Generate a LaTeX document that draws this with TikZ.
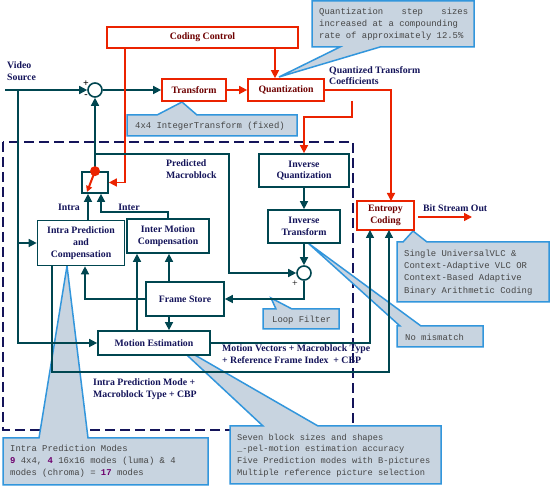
\documentclass[tikz,border=0pt]{standalone}
\usepackage{fontspec}
\setmainfont{Liberation Serif}
\newfontfamily\monof{Liberation Mono}
\usetikzlibrary{arrows.meta,calc}
\definecolor{navy}{RGB}{20,20,90}
\definecolor{teal1}{RGB}{0,70,80}
\definecolor{redl}{RGB}{235,35,0}
\definecolor{darkred}{RGB}{110,0,0}
\definecolor{cfill}{RGB}{200,212,224}
\definecolor{cline}{RGB}{50,150,220}
\definecolor{mono}{RGB}{70,70,70}
\definecolor{purp}{RGB}{110,0,110}
\begin{document}
\begin{tikzpicture}[x=1pt,y=-1pt,
 tbox/.style={draw=teal1,line width=1.7pt,fill=white,font=\bfseries\fontsize{9.8}{11.8}\selectfont,text=navy,align=center,inner sep=0pt},
 rbox/.style={draw=redl,line width=1.7pt,fill=white,font=\bfseries\fontsize{9.8}{11.8}\selectfont,text=darkred,align=center,inner sep=0pt},
 sumc/.style={draw=teal1,line width=1.6pt,fill=white,circle,minimum size=14pt,inner sep=0pt},
 lab/.style={font=\bfseries\fontsize{9.8}{11.8}\selectfont,text=navy,inner sep=0pt},
 con/.style={draw=teal1,line width=1.5pt},
 arr/.style={con,-{Triangle[length=8pt,width=8pt]}},
 rcon/.style={draw=redl,line width=1.5pt},
 rarr/.style={rcon,-{Triangle[length=8pt,width=8pt]}},
 call/.style={fill=cfill,draw=cline,line width=1.5pt,line join=miter},
 ctext/.style={font=\monof\fontsize{8.9}{12}\selectfont,text=mono,align=left,inner sep=0pt},
]
\useasboundingbox[fill=white] (0,0) rectangle (550,486);

% dashed loop region
\draw[navy,line width=2pt,dash pattern=on 10pt off 5pt] (3,142) rectangle (353,430);

% callouts
\draw[call] (127,115) -- (157,115) -- (182,102) -- (197,115) -- (297,115) -- (297,136) -- (127,136) -- cycle;
\draw[call] (312,1) -- (474,1) -- (474,47) -- (380,47) -- (279,77) -- (340,47) -- (312,47) -- cycle;
\draw[call] (397,242) -- (403,242) -- (413,231) -- (427,242) -- (549,242) -- (549,302) -- (397,302) -- cycle;
\draw[call] (397,326) -- (400,326) -- (308,243) -- (421,326) -- (483,326) -- (483,347) -- (397,347) -- cycle;
\draw[call] (263,309) -- (276,309) -- (271,298) -- (292,309) -- (339,309) -- (339,329) -- (263,329) -- cycle;
\draw[call] (3,438) -- (39,438) -- (67,266) -- (88,438) -- (208,438) -- (208,485) -- (3,485) -- cycle;
\draw[call] (230,426) -- (263,426) -- (174,343) -- (318,426) -- (441,426) -- (441,484) -- (230,484) -- cycle;

\node[ctext,anchor=west] (t1) at (135,126) {4x4 IntegerTransform (fixed)};
\node[ctext,anchor=west] (t2) at (319,24) {\hbox to 149pt{Quantization\hfill step\hfill sizes}\\increased at a compounding\\rate of approximately 12.5\%};
\node[ctext,anchor=west,font=\monof\fontsize{8.9}{12.3}\selectfont] (t3) at (404,272.5) {Single UniversalVLC \&\\Context-Adaptive VLC OR\\Context-Based Adaptive\\Binary Arithmetic Coding};
\node[ctext,anchor=west] (t4) at (405,337) {No mismatch};
\node[ctext,anchor=west] (t5) at (272,320) {Loop Filter};
\node[ctext,anchor=west] (t6) at (10,461) {Intra Prediction Modes\\\textcolor{purp}{\textbf{9}} 4x4, \textcolor{purp}{\textbf{4}} 16x16 modes (luma) \& 4\\modes (chroma) = \textcolor{purp}{\textbf{17}} modes};
\node[ctext,anchor=west,font=\monof\fontsize{8.7}{11.8}\selectfont] (t7) at (237,455.5) {Seven block sizes and shapes\\\_-pel-motion estimation accuracy\\Five Prediction modes with B-pictures\\Multiple reference picture selection};

% blocks
\node[rbox,minimum width=191pt,minimum height=21pt] (cc) at (202.5,37.5) {Coding Control};
\node[rbox,minimum width=64pt,minimum height=22pt] (tr) at (194,90) {Transform};
\node[rbox,minimum width=76pt,minimum height=22pt] (qz) at (286,90) {Quantization};
\node[sumc] (s1) at (95,90) {};
\node[tbox,minimum width=26pt,minimum height=21pt] (mux) at (95,182.5) {};
\node[tbox,minimum width=87pt,minimum height=45pt] (ip) at (81,243) {Intra Prediction\\and\\Compensation};
\node[tbox,minimum width=82pt,minimum height=34pt] (imc) at (168,236) {Inter Motion\\Compensation};
\node[tbox,minimum width=78pt,minimum height=34pt] (fs) at (185,299) {Frame Store};
\node[tbox,minimum width=112pt,minimum height=24pt] (me) at (154,343) {Motion Estimation};
\node[tbox,minimum width=90pt,minimum height=33pt] (iq) at (304,170.5) {Inverse\\Quantization};
\node[tbox,minimum width=72pt,minimum height=33pt] (it) at (304,226.5) {Inverse\\Transform};
\node[sumc] (s2) at (304,273) {};
\node[rbox,minimum width=57pt,minimum height=29pt] (ec) at (385.5,215.5) {Entropy\\Coding};

% coordinates
\coordinate (vs) at (5,90);
\coordinate (tapA) at (18,90);
\coordinate (ccq) at (275,48);
\coordinate (ccm) at (125,48);
\coordinate (ecin) at (391,201);
\coordinate (qzb) at (352,101);
\coordinate (qzc) at (352,117);
\coordinate (pm) at (95,154);
\coordinate (pmr) at (229,154);
\coordinate (ipo) at ($(ip.north)+(7,0)$);
\coordinate (muxin) at ($(mux.south)+(6,0)$);
\coordinate (fsn) at ($(fs.north)+(-16,0)$);
\coordinate (fss) at ($(fs.south)+(-16,0)$);
\coordinate (ipb) at ($(ip.south)+(4,0)$);
\coordinate (men) at ($(me.north)+(-17,0)$);
\coordinate (ecl) at (370,230);
\coordinate (ecr) at (389,230);
\coordinate (ipl) at (52,265.5);
\coordinate (ipll) at (52,372);
\coordinate (bsi) at (418,217);
\coordinate (bso) at (472,217);
\coordinate (muxa) at (87,192);

% connectors
\draw[arr] (vs) -- (s1.west);
\draw[arr] (tapA) |- (me.west);
\draw[arr] (tapA |- ip.west) -- (ip.west);
\draw[arr] (s1.east) -- (tr.west);
\draw[rarr] (tr.east) -- (qz.west);
\draw[rarr] (ccq) -- (ccq |- qz.north);
\draw[rarr] (ccm) |- (mux.east);
\draw[rarr] (qz.east) -| (ecin);
\draw[rarr] (qzb) -- (qzc) -| (iq.north);
\draw[arr] (iq.south) -- (it.north);
\draw[arr] (it.south) -- (s2.north);
\draw[arr] (mux.north) -- (s1.south);
\draw[arr] (pm) -- (pmr) |- (s2.west);
\draw[arr] (ipo) -- (ipo |- mux.south);
\draw[arr] (imc.north) -- ++(0,-6) -| (muxin);
\draw[arr] (fsn) -- (fsn |- imc.south);
\draw[arr] (fss) -- (fss |- me.north);
\draw[arr] (fs.west) -| (ipb);
\draw[arr] (men) -- (men |- imc.south);
\draw[arr] (s2.south) |- (fs.east);
\draw[arr] (me.east) -| (ecl);
\draw[arr] (ipl) -- (ipll) -| (ecr);
\draw[rarr] (bsi) -- (bso);

% switch
\fill[redl] (mux.north) circle (5pt);
\draw[redl,line width=2pt,-{Triangle[length=6pt,width=6pt]}] (mux.north) -- (muxa);

% labels
\node[lab,anchor=north west,align=left] (lvs) at (7,62) {Video\\Source};
\node[font=\bfseries\fontsize{10}{10}\selectfont,inner sep=0pt] (lp1) at (86,84) {+};
\node[font=\bfseries\fontsize{10}{10}\selectfont,inner sep=0pt] (lm1) at (86,96) {-};
\node[lab] (lin) at (69,207) {Intra};
\node[lab] (lint) at (129,207) {Inter};
\node[lab,anchor=north west,align=left] (lpm) at (166,160) {Predicted\\Macroblock};
\node[lab,anchor=north west,align=left] (lqtc) at (329,66) {Quantized Transform\\Coefficients};
\node[lab,anchor=west] (lbs) at (423,208) {Bit Stream Out};
\node[font=\fontsize{10}{10}\selectfont,inner sep=0pt] (lp2) at (295,284) {+};
\node[lab,anchor=north west,align=left] (lmv) at (222,345) {Motion Vectors + Macroblock Type\\+ Reference Frame Index\ \ + CBP};
\node[lab,anchor=north west,align=left] (lipm) at (93,379) {Intra Prediction Mode +\\Macroblock Type + CBP};
\end{tikzpicture}
\end{document}
